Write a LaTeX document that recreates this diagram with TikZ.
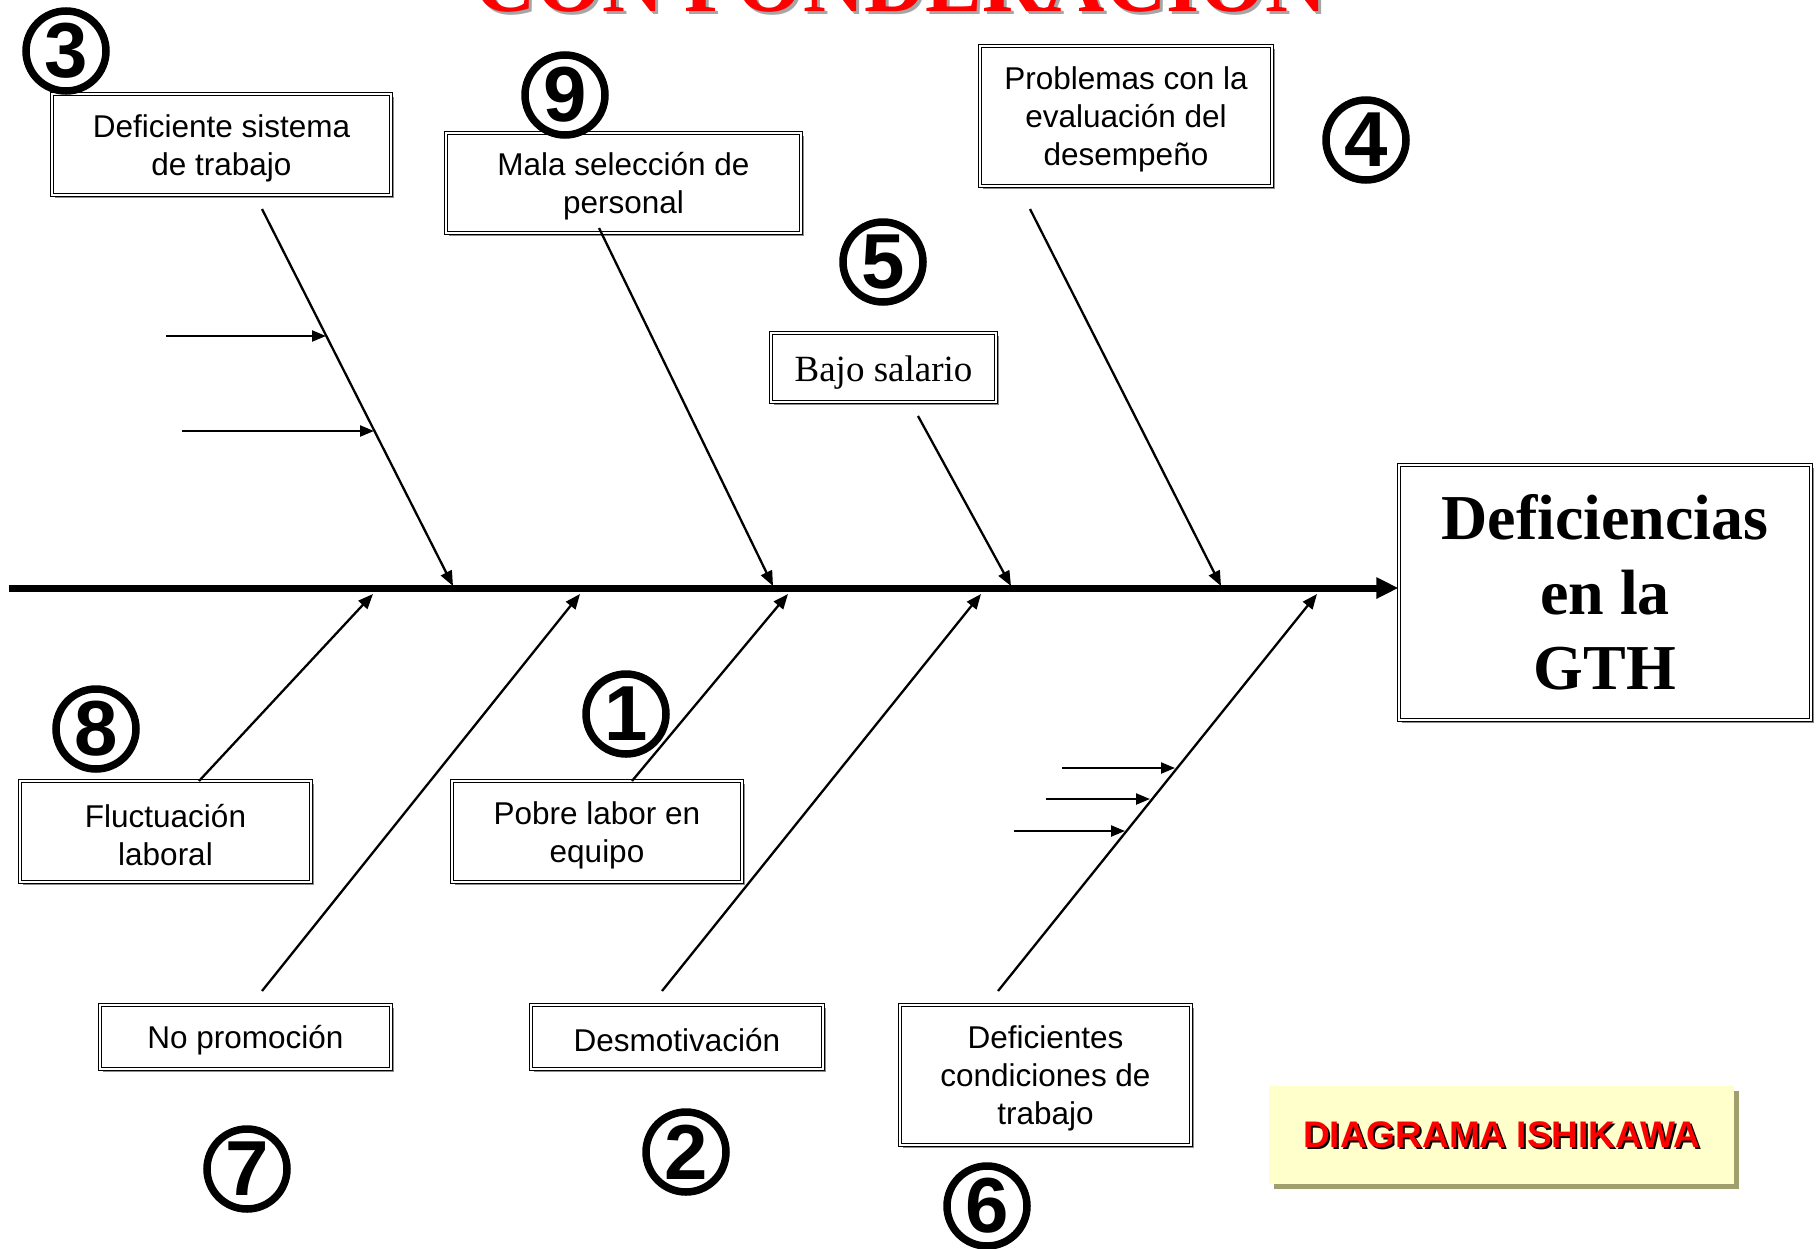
\documentclass[tikz,border=0pt]{standalone}
\usepackage{fontspec}
\setmainfont{Liberation Sans}
\newfontfamily\serifface{Liberation Serif}
\usetikzlibrary{arrows.meta,shadows}
\definecolor{notefill}{RGB}{255,255,204}
\definecolor{noteshade}{RGB}{160,160,110}
% invisible strut that pushes the text block a little lower in its box
\newcommand\toplift[1][30pt]{\rule{0pt}{#1}}
\begin{document}
\begin{tikzpicture}[x=1pt,y=-1pt,
  cause/.style={draw=black, line width=1.1pt, double=white, double distance=1.6pt,
    fill=white, inner sep=0pt, align=center,
    font=\fontsize{31.5}{38}\selectfont,
    drop shadow={shadow xshift=2.5pt, shadow yshift=-2.5pt, fill=black!45, opacity=1}},
  num/.style={circle, draw=black, line width=7.5pt, minimum size=80pt, inner sep=0pt,
    font=\fontsize{78}{78}\selectfont\bfseries},
  bone/.style={line width=2.3pt, -{Triangle[length=15pt,width=12pt]}},
  sub/.style={line width=2.3pt, -{Triangle[length=14pt,width=11pt]}},
]
\useasboundingbox (0,0) rectangle (1818,1248);

% title line, partly above the page edge
\node[text=black!35, anchor=base, font=\serifface\bfseries\fontsize{85}{85}\selectfont]
  (titleshade) at (904,14) {CON PONDERACION};
\node[text=red, anchor=base, font=\serifface\bfseries\fontsize{85}{85}\selectfont]
  (title) at (901,11) {CON PONDERACION};

% effect
\node[cause, minimum width=412pt, minimum height=255pt,
  font=\serifface\bfseries\fontsize{64}{75}\selectfont] (eff) at (1605,592.5)
  {Deficiencias\\en la\\GTH};

% causes, upper side
\node[cause, minimum width=339pt, minimum height=101pt] (c3) at (221.5,144.5)
  {\toplift Deficiente sistema\\de trabajo};
\node[cause, minimum width=355pt, minimum height=100pt] (c9) at (623.5,183)
  {\toplift Mala selección de\\personal};
\node[cause, minimum width=225pt, minimum height=69pt,
  font=\serifface\fontsize{37}{40}\selectfont] (c5) at (883.5,367.5)
  {\toplift[36pt]Bajo salario};
\node[cause, minimum width=292pt, minimum height=140pt] (c4) at (1126,116)
  {\toplift Problemas con la\\evaluación del\\desempeño};

% causes, lower side
\node[cause, minimum width=291pt, minimum height=101pt] (c8) at (165.5,831.5)
  {\toplift Fluctuación\\laboral};
\node[cause, minimum width=290pt, minimum height=101pt] (c1) at (597,831.5)
  {\toplift Pobre labor en\\equipo};
\node[cause, minimum width=291pt, minimum height=64pt] (c7) at (245.5,1037)
  {\toplift No promoción};
\node[cause, minimum width=292pt, minimum height=64pt] (c2) at (677,1037)
  {\toplift Desmotivación};
\node[cause, minimum width=291pt, minimum height=140pt] (c6) at (1045.5,1075)
  {\toplift Deficientes\\condiciones de\\trabajo};

% ranking marks
\node[num] (n3) at (66,51) {3};
\node[num] (n9) at (565,95) {9};
\node[num] (n5) at (883,262) {5};
\node[num] (n4) at (1366,140) {4};
\node[num] (n8) at (96,729) {8};
\node[num] (n1) at (626,714) {1};
\node[num] (n7) at (247,1169) {7};
\node[num] (n2) at (686,1152) {2};
\node[num] (n6) at (987,1206) {6};

% label box
\node[fill=notefill, minimum width=465pt, minimum height=98pt, inner sep=0pt,
  drop shadow={shadow xshift=5pt, shadow yshift=-5pt, fill=noteshade, opacity=1}]
  (label) at (1501.5,1135) {};
\node[text=black, font=\bfseries\fontsize{37}{37}\selectfont] (labelshade)
  at (1503.5,1137) {DIAGRAMA ISHIKAWA};
\node[text=red, font=\bfseries\fontsize{37}{37}\selectfont] (labeltext)
  at (1501.5,1135) {DIAGRAMA ISHIKAWA};

% spine
\coordinate (tail) at (9,588);
\draw[line width=7pt, -{Triangle[length=22pt,width=20pt]}] (tail) -- (eff.west |- tail);

% bone end points
\coordinate (t1s) at (262,209);  \coordinate (t1e) at (453,586);
\coordinate (t2s) at (599,228);  \coordinate (t2e) at (773,586);
\coordinate (t3s) at (918,416);  \coordinate (t3e) at (1011,586);
\coordinate (t4s) at (1030,209); \coordinate (t4e) at (1221,586);
\coordinate (b1s) at (199,781);  \coordinate (b1e) at (373,594);
\coordinate (b2s) at (262,991);  \coordinate (b2e) at (580,594);
\coordinate (b3s) at (632,781);  \coordinate (b3e) at (788,594);
\coordinate (b4s) at (662,991);  \coordinate (b4e) at (981,594);
\coordinate (b5s) at (998,991);  \coordinate (b5e) at (1317,594);

\draw[bone] (t1s) -- (t1e);
\draw[bone] (t2s) -- (t2e);
\draw[bone] (t3s) -- (t3e);
\draw[bone] (t4s) -- (t4e);
\draw[bone] (b1s) -- (b1e);
\draw[bone] (b2s) -- (b2e);
\draw[bone] (b3s) -- (b3e);
\draw[bone] (b4s) -- (b4e);
\draw[bone] (b5s) -- (b5e);

% minor causes
\coordinate (u1s) at (166,336);  \coordinate (u1e) at (326,336);
\coordinate (u2s) at (182,431);  \coordinate (u2e) at (374,431);
\coordinate (l1s) at (1062,768); \coordinate (l1e) at (1175,768);
\coordinate (l2s) at (1046,799); \coordinate (l2e) at (1150,799);
\coordinate (l3s) at (1014,831); \coordinate (l3e) at (1125,831);
\draw[sub] (u1s) -- (u1e);
\draw[sub] (u2s) -- (u2e);
\draw[sub] (l1s) -- (l1e);
\draw[sub] (l2s) -- (l2e);
\draw[sub] (l3s) -- (l3e);
\end{tikzpicture}
\end{document}
